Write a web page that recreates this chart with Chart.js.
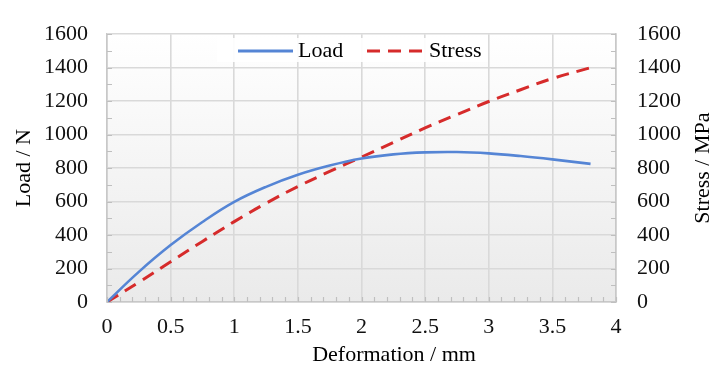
<!DOCTYPE html>
<html>
<head>
<meta charset="utf-8">
<script src="https://cdn.jsdelivr.net/npm/chart.js@4.4.0/dist/chart.umd.min.js"></script>
<style>
  html, body { margin: 0; padding: 0; background: #ffffff; }
  #wrap { width: 712px; height: 369px; position: relative; }
</style>
</head>
<body>
<div id="wrap"><canvas id="c" width="712" height="369"></canvas></div>
<script>
// ---- data ----
const deformation = [0, 0.25, 0.5, 0.75, 1.0, 1.25, 1.5, 1.75, 2.0, 2.25, 2.5, 2.75, 3.0, 3.25, 3.5, 3.8];
const loadN       = [0, 180, 340, 478, 598, 688, 760, 815, 857, 882, 894, 896, 888, 872, 852, 825];
const stressMPa   = [0, 118, 240, 362, 480, 590, 690, 780, 866, 953, 1040, 1120, 1198, 1268, 1335, 1400];
const xTicks = { min: 0, max: 4, step: 0.5, minor: 0.1 };
const yTicks = { min: 0, max: 1600, step: 200, minor: 100 };
const seriesNames = ["Load", "Stress"];
const axisTitles = { x: "Deformation / mm", yLeft: "Load / N", yRight: "Stress / MPa" };

const FONT = "'Liberation Serif', 'Times New Roman', serif";
const BLUE = "#5585d5";
const RED = "#d62b2b";
const GRID = "#d9d9d9";
const DASH = [13, 8];

const toXY = (ys) => deformation.map((x, i) => ({ x: x, y: ys[i] }));
const plain = (v) => String(Math.round(v * 100) / 100);

const bgPlugin = {
  id: 'bg',
  beforeDraw(chart) {
    const { ctx, chartArea: a } = chart;
    const g = ctx.createLinearGradient(0, a.top, 0, a.bottom);
    g.addColorStop(0, '#ffffff');
    g.addColorStop(1, '#eaeaea');
    ctx.save();
    ctx.fillStyle = g;
    ctx.fillRect(a.left, a.top, a.right - a.left, a.bottom - a.top);
    ctx.restore();
  }
};

const minorTicks = {
  id: 'minorTicks',
  afterDraw(chart) {
    const { ctx, chartArea: a, scales } = chart;
    ctx.save();
    ctx.strokeStyle = '#bfbfbf';
    ctx.lineWidth = 1.2;
    const L = 5;
    ctx.beginPath();
    for (let v = xTicks.min; v <= xTicks.max + 1e-9; v += xTicks.minor) {
      const px = Math.round(scales.x.getPixelForValue(v)) + 0.5;
      ctx.moveTo(px, a.bottom);
      ctx.lineTo(px, a.bottom - L);
    }
    for (let v = yTicks.min; v <= yTicks.max + 1e-9; v += yTicks.minor) {
      const py = Math.round(scales.y.getPixelForValue(v)) + 0.5;
      ctx.moveTo(a.left, py);
      ctx.lineTo(a.left + L, py);
      const py2 = Math.round(scales.y2.getPixelForValue(v)) + 0.5;
      ctx.moveTo(a.right, py2);
      ctx.lineTo(a.right - L, py2);
    }
    ctx.stroke();
    ctx.restore();
  }
};

const legendPlugin = {
  id: 'customLegend',
  beforeDatasetsDraw(chart) {
    const { ctx } = chart;
    ctx.save();
    ctx.fillStyle = 'rgba(255,255,255,0.9)';
    ctx.fillRect(217, 38, 271, 24);
    const cy = 51;
    ctx.lineWidth = 3;
    ctx.strokeStyle = BLUE;
    ctx.beginPath(); ctx.moveTo(238, cy); ctx.lineTo(293, cy); ctx.stroke();
    ctx.strokeStyle = RED;
    ctx.setLineDash(DASH);
    ctx.beginPath(); ctx.moveTo(367, cy); ctx.lineTo(423, cy); ctx.stroke();
    ctx.setLineDash([]);
    ctx.fillStyle = '#000';
    ctx.font = "22px " + FONT;
    ctx.textBaseline = 'middle';
    ctx.textAlign = 'left';
    ctx.fillText(seriesNames[0], 298, cy);
    ctx.fillText(seriesNames[1], 429, cy);
    ctx.restore();
  }
};

const titlesPlugin = {
  id: 'axisTitles',
  afterDraw(chart) {
    const { ctx, chartArea: a } = chart;
    const cy = (a.top + a.bottom) / 2;
    ctx.save();
    ctx.fillStyle = '#000';
    ctx.font = "22px " + FONT;
    ctx.textAlign = 'center';
    ctx.textBaseline = 'middle';
    ctx.fillText(axisTitles.x, a.left + (a.right - a.left) * 0.564, 355);
    ctx.save();
    ctx.translate(24, cy);
    ctx.rotate(-Math.PI / 2);
    ctx.fillText(axisTitles.yLeft, 0, 0);
    ctx.restore();
    ctx.save();
    ctx.translate(703, cy);
    ctx.rotate(-Math.PI / 2);
    ctx.fillText(axisTitles.yRight, 0, 0);
    ctx.restore();
    ctx.restore();
  }
};

const tickFont = { family: FONT, size: 22 };

new Chart(document.getElementById('c'), {
  type: 'line',
  data: {
    datasets: [
      {
        label: seriesNames[0],
        data: toXY(loadN),
        borderColor: BLUE,
        borderWidth: 2.6,
        pointRadius: 0,
        tension: 0.4,
        yAxisID: 'y',
        fill: false
      },
      {
        label: seriesNames[1],
        data: toXY(stressMPa),
        borderColor: RED,
        borderWidth: 3,
        borderDash: DASH,
        pointRadius: 0,
        tension: 0.4,
        yAxisID: 'y2',
        fill: false
      }
    ]
  },
  options: {
    responsive: false,
    animation: false,
    devicePixelRatio: 1,
    layout: { padding: { top: 23, left: 0, right: 0, bottom: 0 } },
    plugins: { legend: { display: false }, tooltip: { enabled: false } },
    scales: {
      x: {
        type: 'linear',
        min: xTicks.min, max: xTicks.max,
        ticks: { stepSize: xTicks.step, font: tickFont, color: '#111', padding: 12, maxRotation: 0, callback: plain },
        grid: { color: GRID, lineWidth: 1.6, drawTicks: false },
        border: { color: '#c8c8c8', width: 1.6 },
        afterFit(s) { s.height = 67; }
      },
      y: {
        position: 'left',
        min: yTicks.min, max: yTicks.max,
        ticks: { stepSize: yTicks.step, font: tickFont, color: '#111', padding: 19, callback: plain },
        grid: { color: GRID, lineWidth: 1.6, drawTicks: false },
        border: { color: '#c8c8c8', width: 1.6 },
        afterFit(s) { s.width = 107; }
      },
      y2: {
        position: 'right',
        min: yTicks.min, max: yTicks.max,
        ticks: { stepSize: yTicks.step, font: tickFont, color: '#111', padding: 21, callback: plain },
        grid: { drawOnChartArea: false, drawTicks: false },
        border: { color: '#c8c8c8', width: 1.6 },
        afterFit(s) { s.width = 96; }
      }
    }
  },
  plugins: [bgPlugin, legendPlugin, minorTicks, titlesPlugin]
});
</script>
</body>
</html>
